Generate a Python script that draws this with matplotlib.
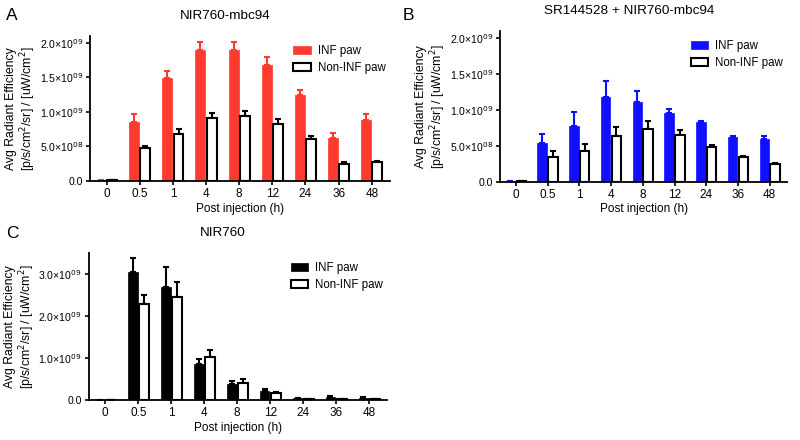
import numpy as np
import matplotlib
matplotlib.use("Agg")
import matplotlib.pyplot as plt
from matplotlib.ticker import FixedLocator

plt.rcParams['font.family'] = ['Liberation Sans', 'DejaVu Sans']

times = ["0", "0.5", "1", "4", "8", "12", "24", "36", "48"]

# panel A: NIR760-mbc94 (values in 1e9)
a_inf = [0.005, 0.86, 1.49, 1.90, 1.90, 1.68, 1.245, 0.625, 0.88]
a_inf_err = [0.0, 0.11, 0.11, 0.11, 0.11, 0.12, 0.075, 0.075, 0.09]
a_non = [0.005, 0.475, 0.68, 0.91, 0.944, 0.83, 0.61, 0.243, 0.27]
a_non_err = [0.0, 0.035, 0.075, 0.07, 0.062, 0.065, 0.04, 0.027, 0.025]

# panel B: SR144528 + NIR760-mbc94
b_inf = [0.005, 0.533, 0.78, 1.18, 1.11, 0.96, 0.833, 0.617, 0.60]
b_inf_err = [0.0, 0.127, 0.19, 0.22, 0.15, 0.05, 0.017, 0.023, 0.03]
b_non = [0.005, 0.347, 0.43, 0.635, 0.736, 0.653, 0.486, 0.34, 0.246]
b_non_err = [0.0, 0.079, 0.09, 0.125, 0.104, 0.067, 0.024, 0.02, 0.014]

# panel C: NIR760
c_inf = [0.01, 3.04, 2.69, 0.866, 0.385, 0.225, 0.05, 0.08, 0.06]
c_inf_err = [0.0, 0.35, 0.47, 0.124, 0.065, 0.04, 0.01, 0.015, 0.015]
c_non = [0.01, 2.29, 2.46, 1.03, 0.41, 0.17, 0.03, 0.03, 0.03]
c_non_err = [0.0, 0.22, 0.34, 0.16, 0.10, 0.04, 0.005, 0.005, 0.005]


def sci_label(v):
    if v == 0:
        return "0.0"
    e = int(np.floor(np.log10(v)))
    m = v / 10 ** e
    return "%.1f×10$^{%02d}$" % (m, e)


def panel(rect, inf, inf_err, non, non_err, color, title, ymax, yticks):
    ax = fig.add_axes(rect)
    x = np.arange(len(times))
    w = 0.3
    off = 0.17
    inf_v = np.array(inf) * 1e9
    non_v = np.array(non) * 1e9
    ax.bar(x - off, inf_v, w, color=color, edgecolor=color, linewidth=0.5,
           label="INF paw", zorder=2)
    ax.errorbar(x - off, inf_v, yerr=[np.zeros(len(x)), np.array(inf_err) * 1e9],
                fmt="none", ecolor=color, elinewidth=1.5, capsize=2.5,
                capthick=1.5, zorder=1)
    ax.bar(x + off, non_v, w, color="white", edgecolor="black", linewidth=1.5,
           label="Non-INF paw", zorder=2)
    ax.errorbar(x + off, non_v, yerr=[np.zeros(len(x)), np.array(non_err) * 1e9],
                fmt="none", ecolor="black", elinewidth=1.5, capsize=2.5,
                capthick=1.5, zorder=1)
    ax.set_xlim(-0.5, 8.55)
    ax.set_ylim(0, ymax)
    ax.set_xticks(x)
    ax.set_xticklabels(times, fontsize=8.5)
    ax.yaxis.set_major_locator(FixedLocator(yticks))
    ax.set_yticklabels([sci_label(v) for v in yticks], fontsize=7.6)
    for s in ["top", "right"]:
        ax.spines[s].set_visible(False)
    for s in ["left", "bottom"]:
        ax.spines[s].set_linewidth(1.3)
    ax.tick_params(axis="both", width=1.2, length=3, pad=2)
    ax.set_xlabel("Post injection (h)", fontsize=8.5, labelpad=2)
    ax.set_ylabel("Avg Radiant Efficiency\n[p/s/cm$^2$/sr] / [uW/cm$^2$]",
                  fontsize=8.8, labelpad=1, linespacing=1.1)
    ax.set_title(title, fontsize=9.7, pad=12, x=0.45)
    ax.legend(loc="upper right", frameon=False, fontsize=8.3, handlelength=1.5,
              handleheight=0.7, borderaxespad=0.0, labelspacing=0.45,
              handletextpad=0.6, bbox_to_anchor=(1.0, 0.97))
    return ax


fig = plt.figure(figsize=(8, 4.4), dpi=100)

panel([0.1125, 0.589, 0.375, 0.329], a_inf, a_inf_err, a_non, a_non_err,
      "#ff3b30", "NIR760-mbc94", 2.1e9, [0, 0.5e9, 1.0e9, 1.5e9, 2.0e9])
panel([0.625, 0.587, 0.359, 0.343], b_inf, b_inf_err, b_non, b_non_err,
      "#1010ff", "SR144528 + NIR760-mbc94", 2.1e9, [0, 0.5e9, 1.0e9, 1.5e9, 2.0e9])
panel([0.111, 0.090, 0.373, 0.335], c_inf, c_inf_err, c_non, c_non_err,
      "black", "NIR760", 3.5e9, [0, 1.0e9, 2.0e9, 3.0e9])

fig.text(0.008, 0.965, "A", fontsize=12.5, va="center")
fig.text(0.503, 0.965, "B", fontsize=12.5, va="center")
fig.text(0.008, 0.47, "C", fontsize=12.5, va="center")

fig.savefig("out.png", dpi=100)
